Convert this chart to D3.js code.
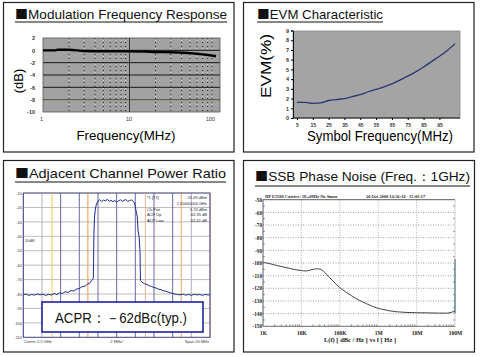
<!DOCTYPE html>
<html><head><meta charset="utf-8">
<script src="https://cdn.jsdelivr.net/npm/d3@7"></script>
<style>body{margin:0;background:#fff}svg{display:block}</style>
</head><body><svg id="c" width="480" height="357"></svg>
<script>
// ---------- DATA ----------
const titleMark = "■";
const titles = ["Modulation Frequency Response","EVM Characteristic","Adjacent Channel Power Ratio","SSB Phase Noise (Freq.：1GHz)"];

// Modulation frequency response
const mfrFreq = [1, 1.4, 1.5, 2, 3, 5, 7, 10, 15, 20, 30, 40, 50, 60, 70, 80, 90, 100];
const mfrDb   = [0, 0, 0.12, 0.1, -0.1, -0.15, -0.15, -0.15, -0.2, -0.27, -0.3, -0.38, -0.45, -0.55, -0.65, -0.75, -0.85, -0.95];
const mfrYTicks = [2, 0, -2, -4, -6, -8, -10];
const mfrXTicks = [1, 10, 100];
const mfrMinor = [2,3,4,5,6,7,8,9,20,30,40,50,60,70,80,90];

// EVM
const evmSym = [5,10,15,20,25,30,35,40,45,50,55,60,65,70,75,80,85,90,95,100,105];
const evmVal = [1.6,1.6,1.5,1.55,1.8,1.9,2.0,2.2,2.4,2.7,2.95,3.2,3.5,3.9,4.3,4.75,5.25,5.8,6.35,6.95,7.65];
const evmYTicks = [0,1,2,3,4,5,6,7,8,9];
const evmXTicks = [5,15,25,35,45,55,65,75,85,95];

// ACPR spectrum trace (MHz offset, dBm)
const acprFreq = [-10,-9.7,-9.4,-9.1,-8.8,-8.5,-8.2,-7.9,-7.6,-7.3,-7.0,-6.7,-6.4,-6.1,-5.8,-5.5,-5.2,-4.9,-4.6,-4.3,-4.0,-3.7,-3.4,-3.1,-2.9,-2.7,-2.58,-2.5,-2.47,-2.44,-2.38,-2.3,-2.2,-2.1,-2.0,-1.8,-1.6,-1.4,-1.2,-1.0,-0.8,-0.6,-0.4,-0.2,0,0.2,0.4,0.6,0.8,1.0,1.2,1.4,1.6,1.8,1.9,2.0,2.1,2.2,2.3,2.4,2.5,2.55,2.6,2.7,2.85,3.0,3.25,3.5,3.75,4.0,4.25,4.5,4.75,5.0,5.25,5.5,5.75,6.0,6.25,6.5,6.8,7.1,7.4,7.7,8.0,8.3,8.6,8.9,9.2,9.5,9.8,10];
const acprLevel = [-80.5,-80.0,-81.0,-80.3,-80.8,-79.9,-80.6,-80.1,-81.0,-80.2,-80.7,-79.6,-80.4,-79.2,-79.6,-78.4,-78.9,-77.6,-77.9,-76.6,-76.2,-74.9,-74.6,-73.0,-72.6,-70.9,-70.0,-68.8,-58,-40,-28,-22,-18.5,-16.8,-15.6,-14.6,-15.9,-14.9,-15.4,-14.4,-15.8,-15.1,-16.0,-15.2,-16.3,-15.5,-14.7,-15.9,-15.0,-14.6,-15.8,-15.2,-14.8,-16.0,-16.6,-19.5,-23.0,-26.0,-36.5,-40.0,-50.5,-70.6,-70.9,-71.8,-72.3,-72.9,-73.4,-74.3,-74.8,-75.5,-75.9,-76.7,-77.0,-77.8,-78.0,-78.7,-79.2,-79.5,-80.1,-80.3,-80.6,-80.1,-80.8,-80.3,-80.9,-80.2,-80.6,-80.4,-80.9,-80.3,-80.7,-80.4];
const acprYTicks = [-10,-20,-30,-40,-50,-60,-70,-80,-90,-100,-110];
const acprGridF = [-10,-8,-6,-4,-2,0,2,4,6,8,10];
const acprMarkerF = [-6.92,-3.08,3.08,6.92];
const acprInfoLeft  = ["*1 [T1]", "", "Ch Pwr", "ACP Up", "ACP Low"];
const acprInfoRight = ["-15.69 dBm", "1.50000000 GHz", "5.74 dBm", "-62.35 dB", "-62.41 dB"];
const acprXLabels = ["Center 1.5 GHz", "2 MHz/", "Span 20 MHz"];
const acprNote = "ACPR：－62dBc(typ.)";

// SSB phase noise (Hz, dBc/Hz)
const pnFreq  = [1e3,1.5e3,2e3,3e3,5e3,7e3,1e4,1.3e4,1.6e4,2e4,2.5e4,3e4,3.5e4,4e4,5e4,7e4,1e5,1.5e5,2e5,3e5,5e5,7e5,1e6,1.5e6,2e6,3e6,5e6,1e7,2e7,4e7,6e7,8e7,1e8];
const pnLevel = [-99.5,-100.5,-101.5,-102.8,-104.3,-105.3,-106,-106.3,-105.8,-105,-104.6,-104.8,-105.8,-107.3,-110.5,-115,-119.5,-123.3,-125.8,-129,-132.2,-134.2,-135.8,-137,-137.8,-138.5,-139,-139.3,-139.4,-139.6,-139.6,-139,-137.8];
const pnYTicks = [-50,-60,-70,-80,-90,-100,-110,-120,-130,-140,-150];
const pnXTicks = [1e3,1e4,1e5,1e6,1e7,1e8];
const pnXLabels = ["1K","10K","100K","1M","10M","100M"];
const pnHeaderL = "HP E5500   Carrier: 1E+09Hz   No Smoo";
const pnHeaderR = "26 Oct 2000  14:56:34 - 15:01:17";
const pnXTitle = "L(f) [ dBc / Hz ] vs f [ Hz ]";

// ---------- DRAW ----------
const svg = d3.select("#c");
const SANS = "'Liberation Sans', Arial, sans-serif";
const SERIF = "'Liberation Serif', 'Times New Roman', serif";

// panel frames
const panels = [[3.5,2.5,230.5,149.5],[243.5,2.5,230.5,149.5],[3.5,160.5,230.5,191.5],[243.5,160.5,231,191.5]];
panels.forEach(p => svg.append("rect").attr("x",p[0]).attr("y",p[1]).attr("width",p[2]).attr("height",p[3])
  .attr("fill","#fff").attr("stroke","#222").attr("stroke-width",1.2));

// titles
const titlePos = [[15,19,212,22],[257,19,126,22],[15,178,211,182],[255,181,215,186]];
titles.forEach((t,i) => {
  const [x,y,w,u] = titlePos[i];
  const tx = svg.append("text").attr("x",x).attr("y",y).attr("font-family",SANS).attr("font-size",13)
    .attr("textLength",w).attr("lengthAdjust","spacingAndGlyphs").attr("fill","#111");
  tx.append("tspan").attr("font-family","'Noto Sans CJK JP', 'DejaVu Sans', sans-serif").attr("font-size",12.5).text(titleMark);
  tx.append("tspan").text(t);
  svg.append("line").attr("x1",x).attr("x2",x+w).attr("y1",u).attr("y2",u).attr("stroke","#111").attr("stroke-width",1);
});

// ===== Panel 1: Modulation Frequency Response =====
{
  const x = d3.scaleLog().domain([1,100]).range([43,216]);
  const y = d3.scaleLinear().domain([-10,2]).range([112,38]);
  const g = svg.append("g");
  g.append("rect").attr("x",43).attr("y",38).attr("width",177).attr("height",74).attr("fill","#a2a2a2");
  mfrMinor.forEach(f => g.append("line").attr("x1",x(f)).attr("x2",x(f)).attr("y1",38).attr("y2",112)
    .attr("stroke","#222").attr("stroke-width",1).attr("stroke-dasharray","1,3"));
  mfrMinor.forEach(f => g.append("line").attr("x1",x(f)).attr("x2",x(f)).attr("y1",40).attr("y2",112)
    .attr("stroke","#ddd").attr("stroke-width",1).attr("stroke-dasharray","1,7"));
  g.append("line").attr("x1",x(10)).attr("x2",x(10)).attr("y1",38).attr("y2",112).attr("stroke","#333").attr("stroke-width",1);
  [0,-2,-4,-6].forEach(v => g.append("line").attr("x1",43).attr("x2",220).attr("y1",y(v)).attr("y2",y(v)).attr("stroke","#1a1a1a").attr("stroke-width",1));
  g.append("line").attr("x1",43).attr("x2",220).attr("y1",y(-8)).attr("y2",y(-8)).attr("stroke","#5a5a30").attr("stroke-width",1);
  g.append("rect").attr("x",43).attr("y",38).attr("width",177).attr("height",74).attr("fill","none").attr("stroke","#555").attr("stroke-width",0.8);
  g.append("path").datum(mfrFreq.map((f,i)=>[f,mfrDb[i]]))
    .attr("d", d3.line().x(d=>x(d[0])).y(d=>y(d[1])).curve(d3.curveMonotoneX))
    .attr("fill","none").attr("stroke","#000").attr("stroke-width",2.4);
  const yAx = g.append("g").attr("transform","translate(43,0)").call(d3.axisLeft(y).tickValues(mfrYTicks).tickSize(0).tickPadding(8).tickFormat(d=>d));
  yAx.select(".domain").remove();
  yAx.selectAll("text").attr("font-family",SANS).attr("font-size",5.5).attr("font-weight","bold").attr("fill","#333");
  const xAx = g.append("g").attr("transform","translate(0,112)").call(d3.axisBottom(x).tickValues(mfrXTicks).tickSize(0).tickPadding(5).tickFormat(d=>d));
  xAx.select(".domain").remove();
  xAx.selectAll("text").attr("font-family",SANS).attr("font-size",5.5).attr("fill","#333").attr("dx",(d,i)=>[-2,-1,-6][i]);
  g.append("text").attr("x",126).attr("y",139.5).attr("text-anchor","middle").attr("font-family",SANS).attr("font-size",13.5)
    .attr("textLength",99).attr("lengthAdjust","spacingAndGlyphs").text("Frequency(MHz)");
  g.append("text").attr("transform","translate(23,81) rotate(-90)").attr("text-anchor","middle").attr("font-family",SANS).attr("font-size",13)
    .text("(dB)");
}

// ===== Panel 2: EVM =====
{
  const x = d3.scaleLinear().domain([2.5,108]).range([293,460]);
  const y = d3.scaleLinear().domain([0,9]).range([118,30.5]);
  const g = svg.append("g");
  g.append("rect").attr("x",293).attr("y",31).attr("width",167).attr("height",87).attr("fill","#a4a4a4").attr("stroke","#8a8a8a").attr("stroke-width",0.8);
  g.append("path").datum(evmSym.map((s,i)=>[s,evmVal[i]]))
    .attr("d", d3.line().x(d=>x(d[0])).y(d=>y(d[1])).curve(d3.curveMonotoneX))
    .attr("fill","none").attr("stroke","#2c3574").attr("stroke-width",1.3);
  const yAx = g.append("g").attr("transform","translate(293,0)").call(d3.axisLeft(y).tickValues(evmYTicks).tickSize(2).tickPadding(2).tickFormat(d=>d));
  yAx.select(".domain").attr("stroke","#111");
  yAx.selectAll("text").attr("font-family",SANS).attr("font-size",5.5).attr("font-weight","bold").attr("fill","#333");
  const xAx = g.append("g").attr("transform","translate(0,118)").call(d3.axisBottom(x).tickValues(evmXTicks).tickSize(2).tickPadding(3).tickFormat(d=>d));
  xAx.select(".domain").attr("stroke","#111").attr("d","M293,0H460");
  xAx.selectAll("text").attr("font-family",SANS).attr("font-size",5).attr("font-weight","bold").attr("fill","#333");
  g.append("text").attr("x",380).attr("y",141).attr("text-anchor","middle").attr("font-family",SANS).attr("font-size",14)
    .attr("textLength",146).attr("lengthAdjust","spacingAndGlyphs").text("Symbol Frequency(MHz)");
  g.append("text").attr("transform","translate(271,66) rotate(-90)").attr("text-anchor","middle").attr("font-family",SANS).attr("font-size",15)
    .attr("textLength",64).attr("lengthAdjust","spacingAndGlyphs").text("EVM(%)");
}

// ===== Panel 3: ACPR =====
{
  const x = d3.scaleLinear().domain([-10,10]).range([23.3,210]);
  const y = d3.scaleLinear().domain([-110,-10]).range([337.3,193]);
  const g = svg.append("g");
  acprYTicks.forEach(v => g.append("line").attr("x1",23.3).attr("x2",210).attr("y1",y(v)).attr("y2",y(v)).attr("stroke","#b4b4b8").attr("stroke-width",0.9));
  acprGridF.forEach(f => g.append("line").attr("x1",x(f)).attr("x2",x(f)).attr("y1",193).attr("y2",337.3)
    .attr("stroke", Math.abs(f)===10 ? "#8888a8" : (Math.abs(f)===8 ? "#b0b0c0" : "#6a6aa4")).attr("stroke-width",1));
  const mColors = ["#e8cc50","#f29a48","#e8b898","#f0a858"];
  acprMarkerF.forEach((f,i) => g.append("line").attr("x1",x(f)).attr("x2",x(f)).attr("y1",193).attr("y2",337.3).attr("stroke",mColors[i]).attr("stroke-width",1));
  g.append("rect").attr("x",23.3).attr("y",193).attr("width",186.7).attr("height",144.3).attr("fill","none").attr("stroke","#4a4a80").attr("stroke-width",0.9);
  g.append("path").datum(acprFreq.map((f,i)=>[f,acprLevel[i]]))
    .attr("d", d3.line().x(d=>x(d[0])).y(d=>y(d[1])))
    .attr("fill","none").attr("stroke","#1e2a8a").attr("stroke-width",1);
  const yAx = g.append("g").attr("transform","translate(23.3,0)").call(d3.axisLeft(y).tickValues(acprYTicks).tickSize(0).tickPadding(1.5).tickFormat(d=>d));
  yAx.select(".domain").remove();
  yAx.selectAll("text").attr("font-family",SANS).attr("font-size",3.8).attr("fill","#334");
  g.append("text").attr("x",25).attr("y",242).attr("font-family",SANS).attr("font-size",3.8).attr("fill","#334").text("10dB/");
  acprInfoLeft.forEach((t,i) => g.append("text").attr("x",147).attr("y",199+i*5.8).attr("font-family",SANS).attr("font-size",4).attr("fill","#223").text(t));
  acprInfoRight.forEach((t,i) => g.append("text").attr("x",207).attr("y",199+i*5.8).attr("text-anchor","end").attr("font-family",SANS).attr("font-size",4).attr("fill","#223").text(t));
  g.append("text").attr("x",24).attr("y",343).attr("font-family",SANS).attr("font-size",4).attr("fill","#334").text(acprXLabels[0]);
  g.append("text").attr("x",x(0)).attr("y",343).attr("text-anchor","middle").attr("font-family",SANS).attr("font-size",4).attr("fill","#334").text(acprXLabels[1]);
  g.append("text").attr("x",209).attr("y",343).attr("text-anchor","end").attr("font-family",SANS).attr("font-size",4).attr("fill","#334").text(acprXLabels[2]);
  g.append("rect").attr("x",42).attr("y",302).attr("width",161).attr("height",30).attr("fill","#fff").attr("stroke","#1c24a0").attr("stroke-width",1.6);
  g.append("text").attr("x",121).attr("y",322.5).attr("text-anchor","middle").attr("font-family",SANS).attr("font-size",14.5)
    .attr("textLength",132).attr("lengthAdjust","spacingAndGlyphs").attr("fill","#111").text(acprNote);
}

// ===== Panel 4: SSB Phase Noise =====
{
  const x = d3.scaleLog().domain([1e3,1e8]).range([263,455]);
  const y = d3.scaleLinear().domain([-150,-50]).range([326.3,199.7]);
  const g = svg.append("g");
  pnYTicks.slice(1,-1).forEach(v => g.append("line").attr("x1",263).attr("x2",455).attr("y1",y(v)).attr("y2",y(v))
    .attr("stroke","#8a8a8a").attr("stroke-width",0.8).attr("stroke-dasharray","1,1.5"));
  pnXTicks.slice(1,-1).forEach(f => g.append("line").attr("x1",x(f)).attr("x2",x(f)).attr("y1",199.7).attr("y2",326.3)
    .attr("stroke","#9a9a9a").attr("stroke-width",0.8).attr("stroke-dasharray","1,1.5"));
  const minors = [];
  pnXTicks.slice(0,-1).forEach(d => [2,3,4,5,6,7,8,9].forEach(m => minors.push(d*m)));
  minors.forEach(f => g.append("line").attr("x1",x(f)).attr("x2",x(f)).attr("y1",326.3).attr("y2",324.3).attr("stroke","#555").attr("stroke-width",0.6));
  d3.range(-145,-50,10).forEach(v => {
    g.append("line").attr("x1",263).attr("x2",265).attr("y1",y(v)).attr("y2",y(v)).attr("stroke","#555").attr("stroke-width",0.6);
    g.append("line").attr("x1",453).attr("x2",455).attr("y1",y(v)).attr("y2",y(v)).attr("stroke","#555").attr("stroke-width",0.6);
  });
  g.append("line").attr("x1",263).attr("x2",455).attr("y1",199.7).attr("y2",199.7).attr("stroke","#333").attr("stroke-width",0.8);
  g.append("line").attr("x1",263).attr("x2",455).attr("y1",326.3).attr("y2",326.3).attr("stroke","#444").attr("stroke-width",0.8);
  g.append("line").attr("x1",263).attr("x2",263).attr("y1",199.7).attr("y2",326.3).attr("stroke","#333").attr("stroke-width",0.8);
  g.append("line").attr("x1",455).attr("x2",455).attr("y1",199.7).attr("y2",326.3).attr("stroke","#aaa").attr("stroke-width",0.6);
  g.append("line").attr("x1",455).attr("x2",455).attr("y1",y(-97)).attr("y2",y(-140)).attr("stroke","#2a6a6a").attr("stroke-width",1);
  g.append("path").datum(pnFreq.map((f,i)=>[f,pnLevel[i]]))
    .attr("d", d3.line().x(d=>x(d[0])).y(d=>y(d[1])).curve(d3.curveMonotoneX))
    .attr("fill","none").attr("stroke","#444").attr("stroke-width",1);
  const yAx = g.append("g").attr("transform","translate(263,0)").call(d3.axisLeft(y).tickValues(pnYTicks).tickSize(0).tickPadding(1).tickFormat(d=>d));
  yAx.select(".domain").remove();
  yAx.selectAll("text").attr("font-family",SERIF).attr("font-size",5.2).attr("font-weight","bold").attr("fill","#222");
  const xAx = g.append("g").attr("transform","translate(0,326.3)").call(d3.axisBottom(x).tickValues(pnXTicks).tickSize(0).tickPadding(5).tickFormat((d,i)=>pnXLabels[i]));
  xAx.select(".domain").remove();
  xAx.selectAll("text").attr("font-family",SERIF).attr("font-size",5.5).attr("font-weight","bold").attr("fill","#222");
  g.append("text").attr("x",360).attr("y",342).attr("text-anchor","middle").attr("font-family",SERIF).attr("font-size",6.5).attr("font-weight","bold").attr("fill","#222").text(pnXTitle);
  g.append("text").attr("x",265).attr("y",197.5).attr("font-family",SERIF).attr("font-size",4.4).attr("font-weight","bold").attr("fill","#222").text(pnHeaderL);
  g.append("text").attr("x",366).attr("y",197.5).attr("font-family",SERIF).attr("font-size",4.4).attr("font-weight","bold").attr("fill","#222").text(pnHeaderR);
}
</script></body></html>
